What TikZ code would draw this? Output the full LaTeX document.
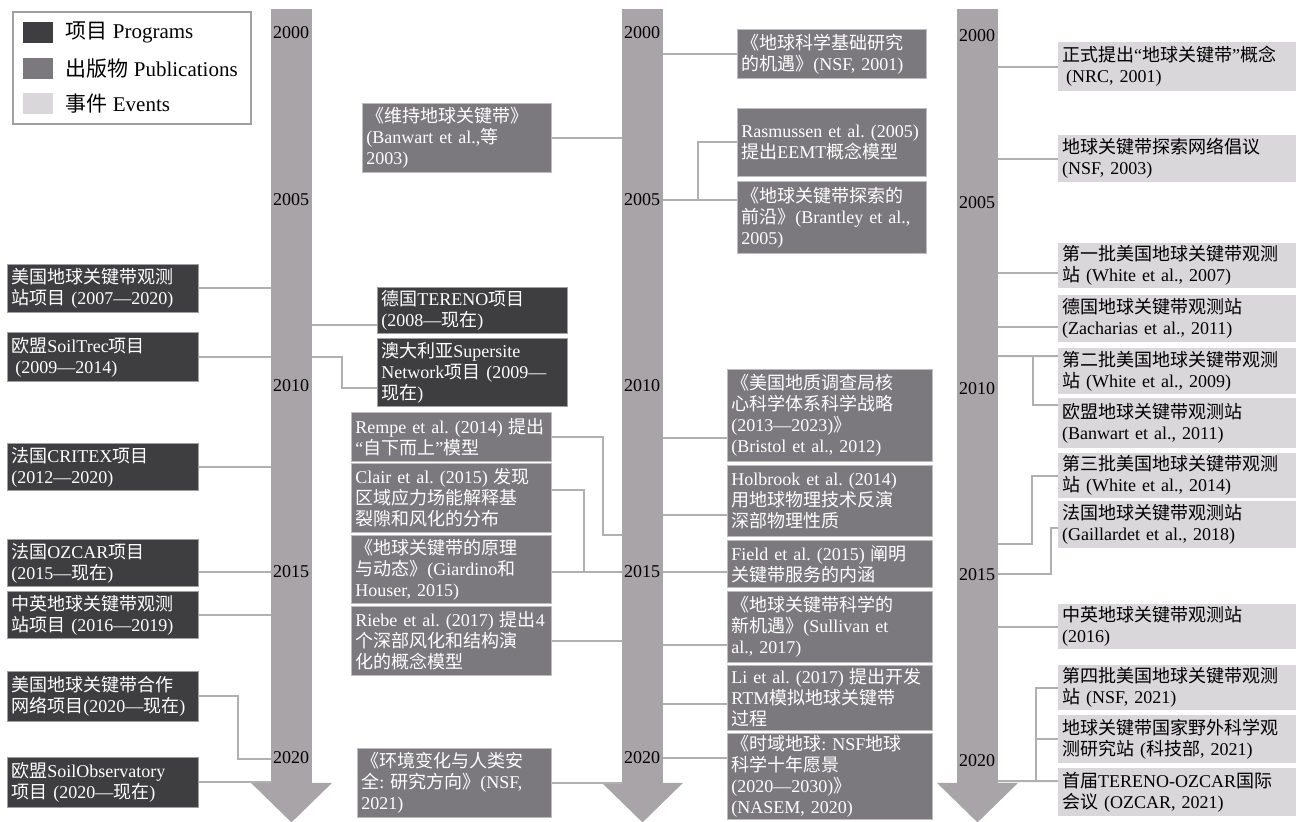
\documentclass[tikz,border=0pt]{standalone}
\usepackage{fontspec}
\setmainfont{Liberation Serif}
\newfontfamily\cjkfont{Noto Sans CJK SC}
\usepackage{tikz}
\usetikzlibrary{positioning}
\usepackage{xcolor}
\frenchspacing

% Chinese characters switch to the CJK font on their own
\newcount\zhcode
\newXeTeXintercharclass\zhclass
\zhcode="3000 \loop\XeTeXcharclass\zhcode=\zhclass \advance\zhcode 1 \ifnum\zhcode<"3040 \repeat
\zhcode="4E00 \loop\XeTeXcharclass\zhcode=\zhclass \advance\zhcode 1 \ifnum\zhcode<"A000 \repeat
\zhcode="FF00 \loop\XeTeXcharclass\zhcode=\zhclass \advance\zhcode 1 \ifnum\zhcode<"FFF0 \repeat
\XeTeXcharclass"201C=0 \XeTeXcharclass"201D=0 \XeTeXcharclass"2014=0
\XeTeXinterchartoks 0 \zhclass = {\begingroup\cjkfont}
\XeTeXinterchartoks 4095 \zhclass = {\begingroup\cjkfont}
\XeTeXinterchartoks \zhclass 0 = {\endgroup}
\XeTeXinterchartoks \zhclass 4095 = {\endgroup}
\XeTeXinterchartokenstate=1

\definecolor{progc}{RGB}{62,61,64}
\definecolor{pubc}{RGB}{123,121,125}
\definecolor{evtc}{RGB}{217,215,217}
\definecolor{axisc}{RGB}{168,164,168}
\definecolor{linkc}{RGB}{176,176,176}
\definecolor{edgec}{RGB}{160,160,160}

\begin{document}
\begin{tikzpicture}[x=1pt, y=-1pt,
  tbox/.style={rectangle, anchor=north west, inner xsep=4pt, inner ysep=0pt,
               align=left, font=\fontsize{18}{21}\selectfont\frenchspacing},
  prog/.style={tbox, fill=progc, draw=edgec, line width=0.8pt, text=white, text width=183pt},
  pub/.style={tbox, fill=pubc, draw=edgec!70!white, line width=0.8pt, text=white},
  evt/.style={tbox, fill=evtc, text=black, text width=230pt},
  axis/.style={rectangle, fill=axisc, anchor=north, inner sep=0pt,
               minimum width=41pt, minimum height=774pt},
  year/.style={anchor=west, inner sep=0pt, font=\fontsize{18}{21}\selectfont},
  link/.style={draw=linkc, line width=2pt},
  swatch/.style={minimum width=30pt, minimum height=21pt, inner sep=0pt},
  key/.style={font=\fontsize{21}{24}\selectfont, inner sep=0pt}
]
\useasboundingbox (0,0) rectangle (1299,822);

% --- Time axes ---
\node[axis] (axA) at (291.5,9) {};
\node[axis] (axB) at (642.5,9) {};
\node[axis] (axC) at (977.5,9) {};
\foreach \ax in {axA,axB,axC} {
  \fill[axisc] ([xshift=-40.5pt,yshift=0.5pt]\ax.south) -- ([xshift=40.5pt,yshift=0.5pt]\ax.south)
    -- ([yshift=-39pt]\ax.south) -- cycle;
}
\foreach \yr/\yy in {2000/33,2005/200,2010/386,2015/572,2020/758} {
  \node[year] (yA\yr) at (273,\yy) {\yr};
  \node[year] (yB\yr) at (624,\yy) {\yr};
  \node[year] (yC\yr) at (959,\yy+3) {\yr};
}

% --- Legend ---
\node[draw=edgec, line width=1.5pt, anchor=north west, minimum width=238pt,
      minimum height=112pt, inner sep=0pt] (legend) at (12,11) {};
\node[swatch, fill=progc, anchor=north west] (kProg) at (23,22) {};
\node[swatch, fill=pubc, below=14pt of kProg] (kPub) {};
\node[swatch, fill=evtc, below=14pt of kPub] (kEvt) {};
\node[key, right=12pt of kProg] (tProg) {项目 Programs};
\node[key, right=12pt of kPub] (tPub) {出版物 Publications};
\node[key, right=12pt of kEvt] (tEvt) {事件 Events};

% --- Left: programs ---
\node[prog, minimum height=48pt] (pA1) at (7,264) {美国地球关键带观测\\站项目 (2007—2020)};
\node[prog, minimum height=49pt] (pA2) at (7,332) {欧盟SoilTrec项目\\\hspace*{4pt}(2009—2014)};
\node[prog, minimum height=47pt] (pA3) at (7,443) {法国CRITEX项目\\(2012—2020)};
\node[prog, minimum height=47pt] (pA4) at (7,539) {法国OZCAR项目\\(2015—现在)};
\node[prog, minimum height=47pt] (pA5) at (7,591) {中英地球关键带观测\\站项目 (2016—2019)};
\node[prog, minimum height=50pt] (pA6) at (7,671) {美国地球关键带合作\\网络项目(2020—现在)};
\node[prog, minimum height=50pt] (pA7) at (7,757) {欧盟SoilObservatory\\项目 (2020—现在)};

% --- Middle left ---
\node[pub, text width=181pt, minimum height=69pt] (bA1) at (362,103) {《维持地球关键带》\\(Banwart et al.,等\\2003)};
\node[prog, text width=182pt, minimum height=46pt] (pB1) at (377,287) {德国TERENO项目\\(2008—现在)};
\node[prog, text width=182pt, minimum height=68pt] (pB2) at (377,338) {澳大利亚Supersite\\Network项目 (2009—\\现在)};
\node[pub, text width=192pt, minimum height=49pt] (bA2) at (351,412) {Rempe et al. (2014) 提出\\“自下而上”模型};
\node[pub, text width=192pt, minimum height=69pt] (bA3) at (351,463) {Clair et al. (2015) 发现\\区域应力场能解释基\\裂隙和风化的分布};
\node[pub, text width=192pt, minimum height=68pt] (bA4) at (351,535) {《地球关键带的原理\\与动态》(Giardino和\\Houser, 2015)};
\node[pub, text width=192pt, minimum height=69pt] (bA5) at (351,606) {Riebe et al. (2017) 提出4\\个深部风化和结构演\\化的概念模型};
\node[pub, text width=186pt, minimum height=69pt] (bA6) at (357,748) {《环境变化与人类安\\全: 研究方向》(NSF,\\2021)};

% --- Middle right: publications ---
\node[pub, text width=181pt, minimum height=49pt] (bB1) at (737,29) {《地球科学基础研究\\的机遇》(NSF, 2001)};
\node[pub, text width=181pt, minimum height=68pt] (bB2) at (737,108) {Rasmussen et al. (2005)\\提出EEMT概念模型};
\node[pub, text width=181pt, minimum height=72pt] (bB3) at (737,181) {《地球关键带探索的\\前沿》(Brantley et al.,\\2005)};
\node[pub, text width=197pt, minimum height=92pt] (bB4) at (727,369) {《美国地质调查局核\\心科学体系科学战略\\(2013—2023)》\\(Bristol et al., 2012)};
\node[pub, text width=197pt, minimum height=71pt] (bB5) at (727,465) {Holbrook et al. (2014)\\用地球物理技术反演\\深部物理性质};
\node[pub, text width=197pt, minimum height=47pt] (bB6) at (727,540) {Field et al. (2015) 阐明\\关键带服务的内涵};
\node[pub, text width=197pt, minimum height=71pt] (bB7) at (727,591) {《地球关键带科学的\\新机遇》(Sullivan et\\al., 2017)};
\node[pub, text width=197pt, minimum height=65pt] (bB8) at (727,665) {Li et al. (2017) 提出开发\\RTM模拟地球关键带\\过程};
\node[pub, text width=197pt, minimum height=86pt] (bB9) at (727,733) {《时域地球: NSF地球\\科学十年愿景\\(2020—2030)》\\(NASEM, 2020)};

% --- Right: events ---
\node[evt, minimum height=49pt] (eC1) at (1058,42) {正式提出“地球关键带”概念\\\hspace*{4pt}(NRC, 2001)};
\node[evt, minimum height=47pt] (eC2) at (1058,135) {地球关键带探索网络倡议\\(NSF, 2003)};
\node[evt, minimum height=45pt] (eC3) at (1058,243) {第一批美国地球关键带观测\\站 (White et al., 2007)};
\node[evt, minimum height=47pt] (eC4) at (1058,295) {德国地球关键带观测站\\(Zacharias et al., 2011)};
\node[evt, minimum height=46pt] (eC5) at (1058,348) {第二批美国地球关键带观测\\站 (White et al., 2009)};
\node[evt, minimum height=50pt] (eC6) at (1058,398) {欧盟地球关键带观测站\\(Banwart et al., 2011)};
\node[evt, minimum height=45pt] (eC7) at (1058,453) {第三批美国地球关键带观测\\站 (White et al., 2014)};
\node[evt, minimum height=47pt] (eC8) at (1058,501) {法国地球关键带观测站\\(Gaillardet et al., 2018)};
\node[evt, minimum height=45pt] (eC9) at (1058,604) {中英地球关键带观测站\\(2016)};
\node[evt, minimum height=45pt] (eC10) at (1058,665) {第四批美国地球关键带观测\\站 (NSF, 2021)};
\node[evt, minimum height=48pt] (eC11) at (1058,715) {地球关键带国家野外科学观\\测研究站 (科技部, 2021)};
\node[evt, minimum height=48pt] (eC12) at (1058,768) {首届TERENO-OZCAR国际\\会议 (OZCAR, 2021)};

% Bend points
\coordinate (netbend) at (238,759);
\coordinate (ozbend) at (342,357);
\coordinate (rempebend) at (603,535);
\coordinate (clairbend) at (584,572);
\coordinate (eemtbend) at (698,200);
\coordinate (c2bend) at (1033,356);
\coordinate (c3bend) at (1032,544);
\coordinate (c8bend) at (1051,574);
\coordinate (c4bend) at (1036,781);

% Connectors, left
\foreach \n in {pA1,pA2,pA3,pA5,pA7} {
  \draw[link] (\n.east) -- (\n.east -| axA.west);
}
\draw[link] (pA4.east |- yA2015) -- (axA.west |- yA2015);
\draw[link] (pA6.east) -| (netbend) -- (netbend -| axA.west);

% Connectors, middle left
\draw[link] ([yshift=-15pt]pB1.west) -- ([yshift=-15pt]pB1.west -| axA.east);
\draw[link] ([yshift=-16pt]pB2.west) -| (ozbend) -- (ozbend -| axA.east);
\foreach \n in {bA1,bA5,bA6} {
  \draw[link] (\n.east) -- (\n.east -| axB.west);
}
\draw[link] (bA2.east) -| (rempebend) -- (rempebend -| axB.west);
\draw[link] ([yshift=8pt]bA3.east) -| (clairbend);
\draw[link] (bA4.east |- yB2015) -- (axB.west |- yB2015);

% Connectors, middle right
\draw[link] (bB1.west) -- (bB1.west -| axB.east);
\draw[link] (bB2.west) -| (eemtbend) -- (eemtbend -| axB.east);
\draw[link] (bB3.west |- eemtbend) -- (eemtbend);
\draw[link] ([yshift=-23pt]bB4.west) -- ([yshift=-23pt]bB4.west -| axB.east);
\draw[link] ([yshift=-14pt]bB5.west) -- ([yshift=-14pt]bB5.west -| axB.east);
\draw[link] (bB6.west |- yB2015) -- (axB.east |- yB2015);
\draw[link] ([yshift=-18pt]bB7.west) -- ([yshift=-18pt]bB7.west -| axB.east);
\draw[link] ([yshift=-6pt]bB8.west) -- ([yshift=-6pt]bB8.west -| axB.east);
\draw[link] (bB9.west |- yB2020) -- (axB.east |- yB2020);

% Connectors, right
\foreach \n in {eC1,eC2,eC9} {
  \draw[link] (\n.west) -- (\n.west -| axC.east);
}
\draw[link] ([yshift=-7.5pt]eC3.west) -- ([yshift=-7.5pt]eC3.west -| axC.east);
\draw[link] ([yshift=-8.5pt]eC4.west) -- ([yshift=-8.5pt]eC4.west -| axC.east);
\draw[link] ([yshift=15pt]eC5.west) -- (c2bend -| axC.east);
\draw[link] ([yshift=18pt]eC6.west) -| (c2bend);
\draw[link] (eC7.west) -| (c3bend) -- (c3bend -| axC.east);
\draw[link] ([yshift=-3pt]eC8.west) -| (c8bend) -- (c8bend -| axC.east);
\draw[link] ([yshift=11pt]eC12.west) -- (c4bend -| axC.east);
\draw[link] (eC10.west) -| (c4bend);
\draw[link] (eC11.west) -- (eC11.west -| c4bend);

\end{tikzpicture}
\end{document}
